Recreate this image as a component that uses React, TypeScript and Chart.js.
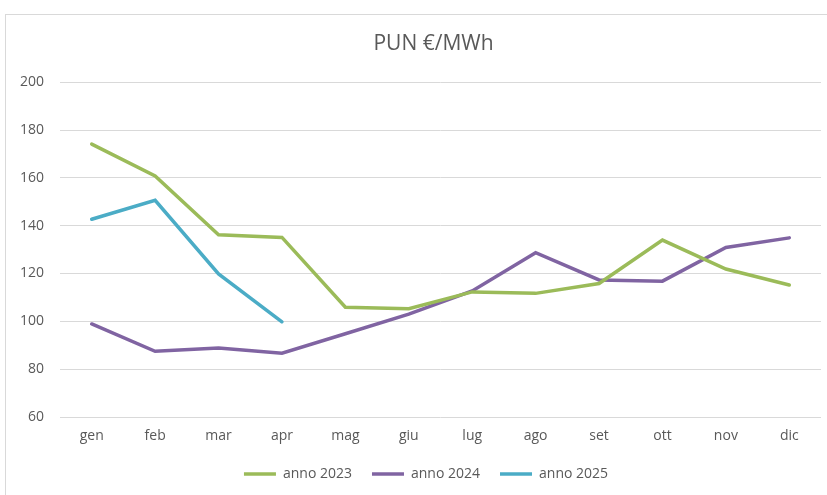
import React, { useEffect, useRef } from "react";
import { Chart, registerables } from "chart.js";

Chart.register(...registerables);

const months = ["gen", "feb", "mar", "apr", "mag", "giu", "lug", "ago", "set", "ott", "nov", "dic"];
const anno2023 = [174.1, 160.8, 136.2, 135.1, 105.9, 105.3, 112.3, 111.7, 115.8, 134.0, 121.9, 115.2];
const anno2024 = [98.9, 87.5, 88.8, 86.7, 94.8, 103.0, 112.7, 128.7, 117.3, 116.8, 130.9, 134.9];
const anno2025 = [142.7, 150.6, 119.8, 99.8, null, null, null, null, null, null, null, null];
const yTicks = { min: 60, max: 200, step: 20 };

const FONT = "'Open Sans', 'Liberation Sans', sans-serif";
const GREY = "#595959";

const borderPlugin = {
  id: "outerBorder",
  beforeDraw(chart: any) {
    const ctx = chart.ctx;
    ctx.save();
    ctx.fillStyle = "#ffffff";
    ctx.fillRect(0, 0, chart.width, chart.height);
    ctx.strokeStyle = "#d9d9d9";
    ctx.lineWidth = 1;
    ctx.strokeRect(5.5, 14.5, chart.width + 10, chart.height + 10);
    ctx.restore();
  },
  afterLayout(chart: any) {
    if (chart.titleBlock) chart.titleBlock.left += 26;
    if (chart.legend) chart.legend.left += 11;
  },
};

export default function App() {
  const ref = useRef<HTMLCanvasElement | null>(null);
  useEffect(() => {
    if (!ref.current) return;
    const chart = new Chart(ref.current, {
      type: "line",
      data: {
        labels: months,
        datasets: [
          { label: "anno 2023", data: anno2023, borderColor: "#9BBB59", backgroundColor: "#9BBB59" },
          { label: "anno 2024", data: anno2024, borderColor: "#8064A2", backgroundColor: "#8064A2" },
          { label: "anno 2025", data: anno2025, borderColor: "#4BACC6", backgroundColor: "#4BACC6" },
        ].map((d) => ({ ...d, borderWidth: 3.5, pointRadius: 0, tension: 0, spanGaps: false, borderCapStyle: "round" as const })),
      },
      options: {
        animation: false,
        responsive: false,
        layout: { padding: { top: 20, left: 20, right: 6, bottom: 4 } },
        plugins: {
          title: {
            display: true,
            text: "PUN €/MWh",
            color: GREY,
            font: { family: FONT, size: 21, weight: "normal" },
            padding: { top: 11, bottom: 26 },
          },
          legend: {
            position: "bottom",
            labels: {
              usePointStyle: true,
              pointStyle: "line",
              pointStyleWidth: 32,
              color: GREY,
              font: { family: FONT, size: 14 },
              padding: 20,
            },
          },
          tooltip: { enabled: false },
        },
        scales: {
          x: {
            offset: true,
            grid: { display: false, drawTicks: false },
            border: { display: false },
            ticks: { color: GREY, font: { family: FONT, size: 14 }, padding: 11, maxRotation: 0 },
            afterFit: (s: any) => {
              s.height = 30;
            },
          },
          y: {
            min: yTicks.min,
            max: yTicks.max,
            ticks: { stepSize: yTicks.step, color: GREY, font: { family: FONT, size: 14 }, padding: 16 },
            grid: { color: "#d9d9d9", drawTicks: false },
            border: { display: false },
            afterFit: (s: any) => {
              s.width = 40;
            },
          },
        },
      },
      plugins: [borderPlugin],
    });
    return () => chart.destroy();
  }, []);
  return (
    <div style={{ position: "fixed", left: 0, top: 0, width: 827, height: 495, background: "#fff" }}>
      <canvas ref={ref} width={827} height={495} style={{ display: "block" }} />
    </div>
  );
}
